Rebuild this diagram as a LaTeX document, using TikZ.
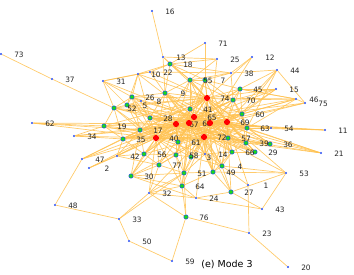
\documentclass[tikz,border=0pt]{standalone}
\definecolor{edgeorange}{rgb}{1.0, 0.76, 0.32}
\definecolor{dotblue}{rgb}{0.15, 0.3, 0.95}
\definecolor{leafgreen}{rgb}{0.1, 0.85, 0.1}
\definecolor{hubred}{rgb}{1.0, 0.0, 0.0}
\usepackage{fontspec}
\setmainfont{DejaVu Sans}
\usepackage{tikz}
\usetikzlibrary{backgrounds}

\begin{document}
\begin{tikzpicture}[x=1pt, y=-1pt]
	% ------------------------------------------------------------------
	% STYLE DEFINITIONS
	% ------------------------------------------------------------------
	\tikzset{
		bnode/.style = {circle, fill=dotblue, inner sep=0pt, minimum size=2.2pt},
		gnode/.style = {circle, fill=leafgreen, draw=dotblue, line width=0.5pt, inner sep=0pt, minimum size=4.4pt},
		rnode/.style = {circle, fill=hubred, inner sep=0pt, minimum size=6.2pt},
		lbl/.style   = {font=\fontsize{7.4}{8}\selectfont, text=black!85, inner sep=0pt, xshift=18pt, yshift=-1pt},
		tag/.style   = {label={[lbl]center:#1}},
		edge/.style  = {draw=edgeorange, line width=0.7pt, opacity=0.85},
	}
	\useasboundingbox (0,0) rectangle (354,274);

	% ------------------------------------------------------------------
	% HUB NODES (red)
	% ------------------------------------------------------------------
	\node[rnode,tag=74] (n74) at (207,98)  {};
	\node[rnode,tag=65] (n65) at (194,117) {};
	\node[rnode,tag=67] (n67) at (176,124) {};
	\node[rnode,tag=68] (n68) at (189,123) {};
	\node[rnode]        (n6)  at (210,123) {};
	\node[rnode,tag=69] (n69) at (227,122) {};
	\node[rnode,tag=72] (n72) at (204,137) {};
	\node[rnode,tag=40] (n40) at (156,138) {};

	% ------------------------------------------------------------------
	% INNER NODES (green)
	% ------------------------------------------------------------------
	\node[gnode,tag=3]  (n3)  at (191,157) {};
	\node[gnode,tag=4]  (n4)  at (222,166) {};
	\node[gnode,tag=5]  (n5)  at (127,105) {};
	\node[gnode,tag=7]  (n7)  at (205,80)  {};
	\node[gnode,tag=9]  (n9)  at (165,93)  {};
	\node[gnode,tag=17] (n17) at (140,130) {};
	\node[gnode,tag=18] (n18) at (170,64)  {};
	\node[gnode,tag=19] (n19) at (104,126) {};
	\node[gnode,tag=26] (n26) at (132,97)  {};
	\node[gnode,tag=27] (n27) at (231,192) {};
	\node[gnode,tag=28] (n28) at (150,118) {};
	\node[gnode,tag=29] (n29) at (255,152) {};
	\node[gnode,tag=30] (n30) at (131,176) {};
	\node[gnode,tag=35] (n35) at (123,139) {};
	\node[gnode,tag=36] (n36) at (270,144) {};
	\node[gnode,tag=39] (n39) at (246,143) {};
	\node[gnode,tag=41] (n41) at (190,109) {};
	\node[gnode,tag=45] (n45) at (240,89)  {};
	\node[gnode,tag=49] (n49) at (213,172) {};
	\node[gnode,tag=51] (n51) at (184,173) {};
	\node[gnode,tag=52] (n52) at (114,108) {};
	\node[gnode,tag=55] (n55) at (190,80)  {};
	\node[gnode,tag=56] (n56) at (144,154) {};
	\node[gnode,tag=57] (n57) at (228,138) {};
	\node[gnode,tag=58] (n58) at (176,155) {};
	\node[gnode,tag=60] (n60) at (242,114) {};
	\node[gnode,tag=61] (n61) at (178,142) {};
	\node[gnode,tag=63] (n63) at (247,128) {};
	\node[gnode,tag=64] (n64) at (182,186) {};
	\node[gnode,tag=66] (n66) at (232,152) {};
	\node[gnode,tag=70] (n70) at (233,100) {};
	\node[gnode,tag=76] (n76) at (186,217) {};
	\node[gnode,tag=77] (n77) at (159,165) {};

	% ------------------------------------------------------------------
	% OUTER NODES (blue)
	% ------------------------------------------------------------------
	\node[bnode,tag=1]  (n1)  at (248,185) {};
	\node[bnode,tag=2]  (n2)  at (89,168)  {};
	\node[bnode,tag=8]  (n8)  at (141,101) {};
	\node[bnode,tag=10] (n10) at (138,74)  {};
	\node[bnode,tag=11] (n11) at (325,130) {};
	\node[bnode,tag=12] (n12) at (252,57)  {};
	\node[bnode,tag=13] (n13) at (163,57)  {};
	\node[bnode,tag=14] (n14) at (205,154) {};
	\node[bnode,tag=15] (n15) at (276,89)  {};
	\node[bnode,tag=16] (n16) at (152,11)  {};
	\node[bnode,tag=20] (n20) at (288,267) {};
	\node[bnode,tag=21] (n21) at (321,153) {};
	\node[bnode,tag=22] (n22) at (150,72)  {};
	\node[bnode,tag=23] (n23) at (249,233) {};
	\node[bnode,tag=24] (n24) at (196,198) {};
	\node[bnode,tag=25] (n25) at (217,59)  {};
	\node[bnode,tag=31] (n31) at (103,81)  {};
	\node[bnode,tag=32] (n32) at (149,193) {};
	\node[bnode,tag=33] (n33) at (119,219) {};
	\node[bnode,tag=34] (n34) at (74,136)  {};
	\node[bnode,tag=37] (n37) at (52,79)   {};
	\node[bnode,tag=38] (n38) at (231,73)  {};
	\node[bnode,tag=42] (n42) at (117,156) {};
	\node[bnode,tag=43] (n43) at (262,209) {};
	\node[bnode,tag=44] (n44) at (277,70)  {};
	\node[bnode,tag=46] (n46) at (296,99)  {};
	\node[bnode,tag=47] (n47) at (82,159)  {};
	\node[bnode,tag=48] (n48) at (55,205)  {};
	\node[bnode,tag=50] (n50) at (129,241) {};
	\node[bnode,tag=53] (n53) at (286,173) {};
	\node[bnode,tag=54] (n54) at (271,128) {};
	\node[bnode,tag=59] (n59) at (172,261) {};
	\node[bnode,tag=62] (n62) at (32,123)  {};
	\node[bnode,tag=71] (n71) at (205,43)  {};
	\node[bnode,tag=73] (n73) at (1,54)    {};
	\node[bnode,tag=75] (n75) at (305,103) {};

	\node[font=\fontsize{9.5}{11}\selectfont] (caption) at (227,265) {(e) Mode 3};

	% ------------------------------------------------------------------
	% EDGES
	% ------------------------------------------------------------------
	\begin{pgfonlayer}{background}
	% outer ring
	\path[edge] (n16) edge (n13);
	\path[edge] (n13) edge (n18) edge (n55) edge (n9);
	\path[edge] (n22) edge (n18) edge (n31) edge (n9) edge (n10);
	\path[edge] (n10) edge (n31) edge (n28) edge (n18);
	\path[edge] (n31) edge (n52) edge (n26) edge (n5);
	\path[edge] (n73) edge (n37);
	\path[edge] (n37) edge (n52);
	\path[edge] (n62) edge (n19) edge (n17);
	\path[edge] (n34) edge (n35) edge (n17) edge (n19);
	\path[edge] (n47) edge (n35) edge (n48) edge (n17);
	\path[edge] (n2)  edge (n42) edge (n40);
	\path[edge] (n48) edge (n33);
	\path[edge] (n33) edge (n32) edge (n50) edge (n51);
	\path[edge] (n50) edge (n59);
	\path[edge] (n59) edge (n76);
	\path[edge] (n76) edge (n23) edge (n64) edge (n51) edge (n32);
	\path[edge] (n23) edge (n1) edge (n20);
	\path[edge] (n43) edge (n53) edge (n24) edge (n27);
	\path[edge] (n53) edge (n4) edge (n49) edge (n27);
	\path[edge] (n24) edge (n64) edge (n27) edge (n30) edge (n32);
	\path[edge] (n21) edge (n63) edge (n57);
	\path[edge] (n11) edge (n54) edge (n63);
	\path[edge] (n54) edge (n63) edge (n69);
	\path[edge] (n44) edge (n38) edge (n75) edge (n60) edge (n63);
	\path[edge] (n15) edge (n45) edge (n70) edge (n60);
	\path[edge] (n46) edge (n70) edge (n63) edge (n60) edge (n45);
	\path[edge] (n75) edge (n46) edge (n69);
	\path[edge] (n12) edge (n74) edge (n38);
	\path[edge] (n71) edge (n7) edge (n18);
	\path[edge] (n25) edge (n18) edge (n55) edge (n13);
	\path[edge] (n38) edge (n18) edge (n55) edge (n7) edge (n70) edge (n22);
	% hubs
	\path[edge] (n74) edge (n9) edge (n41) edge (n55) edge (n7) edge (n70)
		edge (n60) edge (n63) edge (n57) edge (n28) edge (n17) edge (n35)
		edge (n26) edge (n5) edge (n52) edge (n19) edge (n40) edge (n65)
		edge (n67) edge (n68) edge (n6) edge (n69) edge (n72) edge (n45)
		edge (n46) edge (n15) edge (n18) edge (n22) edge (n10) edge (n61)
		edge (n3) edge (n14) edge (n29) edge (n36) edge (n49);
	\path[edge] (n65) edge (n9) edge (n41) edge (n55) edge (n7) edge (n70)
		edge (n60) edge (n63) edge (n57) edge (n39) edge (n28) edge (n17)
		edge (n35) edge (n52) edge (n19) edge (n26) edge (n5) edge (n8)
		edge (n40) edge (n67) edge (n68) edge (n6) edge (n69) edge (n72)
		edge (n61) edge (n58) edge (n56) edge (n77) edge (n51) edge (n4)
		edge (n49) edge (n66) edge (n45) edge (n46) edge (n75) edge (n54)
		edge (n21) edge (n31) edge (n10);
	\path[edge] (n67) edge (n9) edge (n41) edge (n55) edge (n70) edge (n60)
		edge (n63) edge (n57) edge (n39) edge (n36) edge (n29) edge (n28)
		edge (n17) edge (n35) edge (n52) edge (n19) edge (n26) edge (n5)
		edge (n40) edge (n68) edge (n6) edge (n69) edge (n72) edge (n61)
		edge (n58) edge (n3) edge (n14) edge (n56) edge (n77) edge (n30)
		edge (n51) edge (n42) edge (n34) edge (n62) edge (n47) edge (n2);
	\path[edge] (n68) edge (n9) edge (n41) edge (n7) edge (n70) edge (n60)
		edge (n63) edge (n57) edge (n39) edge (n28) edge (n17) edge (n35)
		edge (n52) edge (n5) edge (n40) edge (n6) edge (n69) edge (n72)
		edge (n61) edge (n58) edge (n3) edge (n14) edge (n56) edge (n66)
		edge (n29) edge (n4) edge (n49) edge (n51) edge (n64) edge (n45)
		edge (n15) edge (n11) edge (n21) edge (n53);
	\path[edge] (n6) edge (n41) edge (n55) edge (n7) edge (n70) edge (n60)
		edge (n63) edge (n57) edge (n39) edge (n36) edge (n28) edge (n17)
		edge (n35) edge (n40) edge (n69) edge (n72) edge (n61) edge (n3)
		edge (n14) edge (n4) edge (n49) edge (n66) edge (n29) edge (n54)
		edge (n11) edge (n46) edge (n75) edge (n25) edge (n12);
	\path[edge] (n69) edge (n41) edge (n7) edge (n70) edge (n60) edge (n63)
		edge (n57) edge (n39) edge (n36) edge (n29) edge (n66) edge (n72)
		edge (n14) edge (n4) edge (n49) edge (n28) edge (n17) edge (n40)
		edge (n61) edge (n9) edge (n55) edge (n45) edge (n15) edge (n44)
		edge (n21) edge (n53) edge (n1) edge (n27);
	\path[edge] (n72) edge (n41) edge (n9) edge (n70) edge (n60) edge (n63)
		edge (n57) edge (n39) edge (n36) edge (n29) edge (n66) edge (n14)
		edge (n3) edge (n58) edge (n61) edge (n40) edge (n77) edge (n56)
		edge (n51) edge (n49) edge (n4) edge (n64) edge (n24) edge (n27)
		edge (n28) edge (n17) edge (n35) edge (n30) edge (n32);
	\path[edge] (n40) edge (n9) edge (n41) edge (n55) edge (n28) edge (n17)
		edge (n35) edge (n52) edge (n19) edge (n26) edge (n5) edge (n8)
		edge (n61) edge (n58) edge (n56) edge (n77) edge (n42) edge (n30)
		edge (n3) edge (n14) edge (n57) edge (n39) edge (n63) edge (n60)
		edge (n70) edge (n47) edge (n34) edge (n62) edge (n32) edge (n64);
	% green to green
	\path[edge] (n17) edge (n35) edge (n52) edge (n19) edge (n28) edge (n56)
		edge (n42) edge (n30) edge (n5) edge (n26);
	\path[edge] (n28) edge (n9) edge (n26) edge (n5) edge (n41) edge (n61);
	\path[edge] (n9)  edge (n55) edge (n41) edge (n18) edge (n26);
	\path[edge] (n55) edge (n7) edge (n18) edge (n41) edge (n70);
	\path[edge] (n7)  edge (n70) edge (n41) edge (n18) edge (n45);
	\path[edge] (n70) edge (n45) edge (n60) edge (n63);
	\path[edge] (n60) edge (n63) edge (n39) edge (n45) edge (n57);
	\path[edge] (n63) edge (n57) edge (n39) edge (n36);
	\path[edge] (n57) edge (n39) edge (n36) edge (n29) edge (n66) edge (n4);
	\path[edge] (n39) edge (n36) edge (n29) edge (n66) edge (n21);
	\path[edge] (n66) edge (n14) edge (n4) edge (n49) edge (n29);
	\path[edge] (n14) edge (n3) edge (n4) edge (n49) edge (n51);
	\path[edge] (n3)  edge (n58) edge (n51) edge (n61) edge (n4);
	\path[edge] (n58) edge (n56) edge (n77) edge (n51) edge (n64);
	\path[edge] (n56) edge (n77) edge (n35) edge (n42) edge (n30);
	\path[edge] (n77) edge (n30) edge (n42) edge (n51) edge (n32);
	\path[edge] (n51) edge (n64) edge (n49) edge (n30) edge (n32);
	\path[edge] (n49) edge (n4) edge (n27) edge (n64);
	\path[edge] (n64) edge (n30) edge (n32);
	\path[edge] (n4)  edge (n27) edge (n1);
	\path[edge] (n35) edge (n19) edge (n52) edge (n42);
	\path[edge] (n52) edge (n26) edge (n5) edge (n19);
	\path[edge] (n26) edge (n5) edge (n8) edge (n10);
	\path[edge] (n5)  edge (n8) edge (n10);
	\path[edge] (n45) edge (n46) edge (n44);
	\path[edge] (n41) edge (n61) edge (n58);
	\end{pgfonlayer}
\end{tikzpicture}
\end{document}
